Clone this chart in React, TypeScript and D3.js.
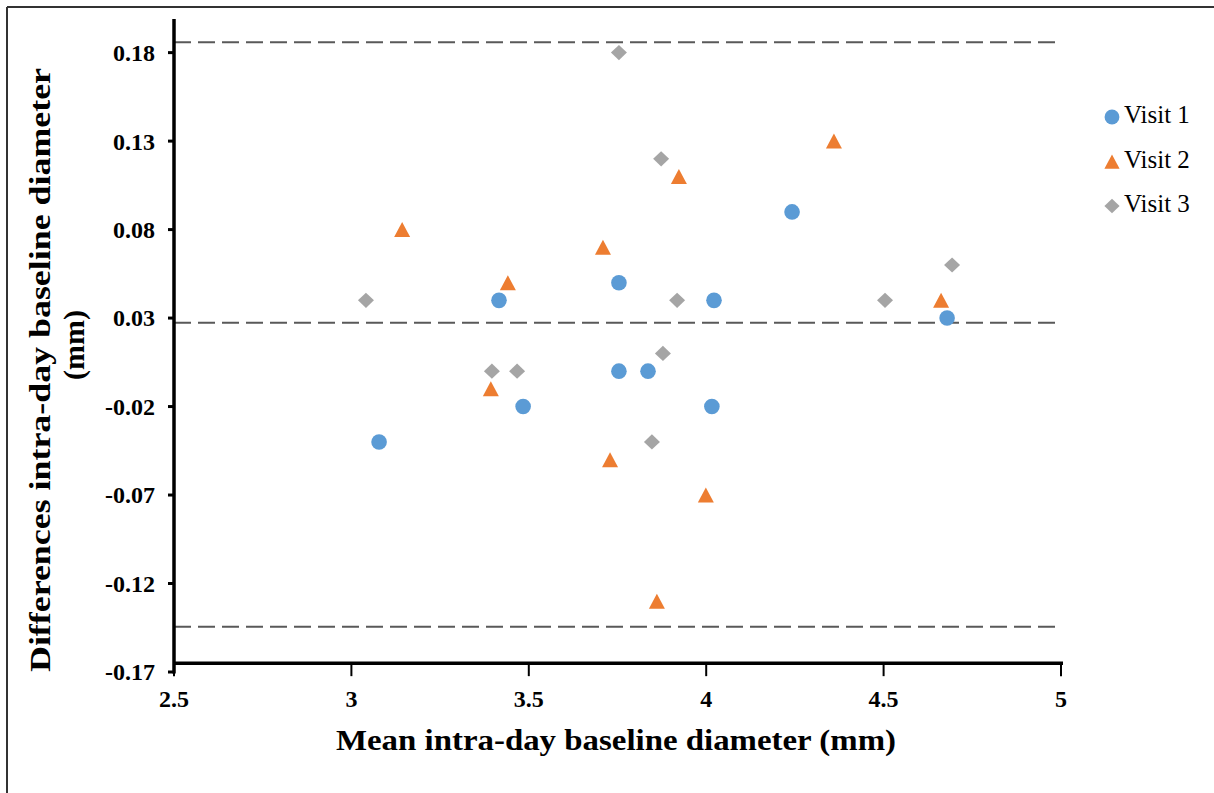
import React from "react";
import * as d3 from "d3";

const visit1X = [3.078, 3.416, 3.484, 3.754, 3.754, 3.836, 4.022, 4.016, 4.242, 4.679];
const visit1Y = [-0.04, 0.04, -0.02, 0.05, 0.0, 0.0, 0.04, -0.02, 0.09, 0.03];
const visit2X = [3.143, 3.441, 3.393, 3.709, 3.729, 3.923, 3.999, 3.861, 4.36, 4.662];
const visit2Y = [0.08, 0.05, -0.01, 0.07, -0.05, 0.11, -0.07, -0.13, 0.13, 0.04];
const visit3X = [3.041, 3.754, 3.873, 3.396, 3.467, 3.878, 3.847, 3.918, 4.504, 4.693];
const visit3Y = [0.04, 0.18, 0.12, 0.0, 0.0, 0.01, -0.04, 0.04, 0.04, 0.06];

const seriesNames = ["Visit 1", "Visit 2", "Visit 3"];
const seriesColors = ["#5B9BD5", "#ED7D31", "#A5A5A5"];

const xTicks = [2.5, 3, 3.5, 4, 4.5, 5];
const xTickLabels = ["2.5", "3", "3.5", "4", "4.5", "5"];
const yTicks = [-0.17, -0.12, -0.07, -0.02, 0.03, 0.08, 0.13, 0.18];
const yTickLabels = ["-0.17", "-0.12", "-0.07", "-0.02", "0.03", "0.08", "0.13", "0.18"];

const limitLines = [0.1858, 0.0273, -0.1444];

const xTitle = "Mean intra-day baseline diameter (mm)";
const yTitle1 = "Differences intra-day baseline diameter";
const yTitle2 = "(mm)";

const FONT = "'Liberation Serif', 'Times New Roman', serif";

function Marker({ kind, cx, cy, color, s = 1 }: { kind: number; cx: number; cy: number; color: string; s?: number }) {
  if (kind === 0) return <circle cx={cx} cy={cy} r={7.8 * s} fill={color} />;
  if (kind === 1) {
    const w = 8 * s, h = 7.5 * s;
    return <path d={`M${cx},${cy - h}L${cx + w},${cy + h}L${cx - w},${cy + h}Z`} fill={color} />;
  }
  const r = 8 * s;
  return <path d={`M${cx},${cy - r * 0.95}L${cx + r},${cy}L${cx},${cy + r * 0.95}L${cx - r},${cy}Z`} fill={color} />;
}

export default function App() {
  const W = 1214, H = 793;
  const x = d3.scaleLinear().domain([2.5, 5]).range([174, 1061]);
  const y = d3.scaleLinear().domain([-0.17, 0.199]).range([672, 19]);
  const xAxisY = y(-0.165);

  const series = [
    visit1X.map((v, i) => [v, visit1Y[i]]),
    visit2X.map((v, i) => [v, visit2Y[i]]),
    visit3X.map((v, i) => [v, visit3Y[i]]),
  ];

  return (
    <svg width={W} height={H} style={{ position: "absolute", left: 0, top: 0, background: "#fff" }} fontFamily={FONT}>
      <rect x={0} y={0} width={W} height={H} fill="#fff" />
      {/* outer frame */}
      <line x1={7} y1={7} x2={W} y2={7} stroke="#333" strokeWidth={2} />
      <line x1={7} y1={7} x2={7} y2={H} stroke="#333" strokeWidth={2} />

      {/* limit lines */}
      {limitLines.map((v, i) => (
        <line key={i} x1={x(2.5)} x2={x(5)} y1={y(v)} y2={y(v)} stroke="#595959" strokeWidth={2} strokeDasharray="17,7" />
      ))}

      {/* y axis */}
      <line x1={x(2.5)} x2={x(2.5)} y1={y(0.199)} y2={y(-0.17) + 1.5} stroke="#000" strokeWidth={3.5} />
      {yTicks.map((t, i) => (
        <g key={i}>
          <line x1={x(2.5) - 6} x2={x(2.5)} y1={y(t)} y2={y(t)} stroke="#000" strokeWidth={3} />
          <text x={155} y={y(t)} dy="0.35em" textAnchor="end" fontSize={24} fontWeight="bold" fill="#000">
            {yTickLabels[i]}
          </text>
        </g>
      ))}

      {/* x axis */}
      <line x1={x(2.5)} x2={x(5) + 2} y1={xAxisY} y2={xAxisY} stroke="#000" strokeWidth={3.5} />
      {xTicks.map((t, i) => (
        <g key={i}>
          <line x1={x(t)} x2={x(t)} y1={xAxisY} y2={xAxisY + 13} stroke="#000" strokeWidth={2} />
          <text x={x(t)} y={707} textAnchor="middle" fontSize={24} fontWeight="bold" fill="#000">
            {xTickLabels[i]}
          </text>
        </g>
      ))}

      {/* points */}
      {series.map((pts, si) =>
        pts.map((p, j) => <Marker key={`${si}-${j}`} kind={si} cx={x(p[0])} cy={y(p[1])} color={seriesColors[si]} />)
      )}

      {/* axis titles */}
      <text x={616} y={750} textAnchor="middle" fontSize={30} fontWeight="bold" fill="#000" textLength={560} lengthAdjust="spacingAndGlyphs">
        {xTitle}
      </text>
      <text transform="translate(50,370) rotate(-90)" textAnchor="middle" fontSize={30} fontWeight="bold" fill="#000" textLength={604} lengthAdjust="spacingAndGlyphs">
        {yTitle1}
      </text>
      <text transform="translate(84,345) rotate(-90)" textAnchor="middle" fontSize={30} fontWeight="bold" fill="#000">
        {yTitle2}
      </text>

      {/* legend */}
      {seriesNames.map((n, i) => {
        const cy = 117 + i * 44.5;
        return (
          <g key={n}>
            <Marker kind={i} cx={1112} cy={cy} color={seriesColors[i]} s={0.95} />
            <text x={1124} y={cy + 6} fontSize={25} fill="#000">
              {n}
            </text>
          </g>
        );
      })}
    </svg>
  );
}
